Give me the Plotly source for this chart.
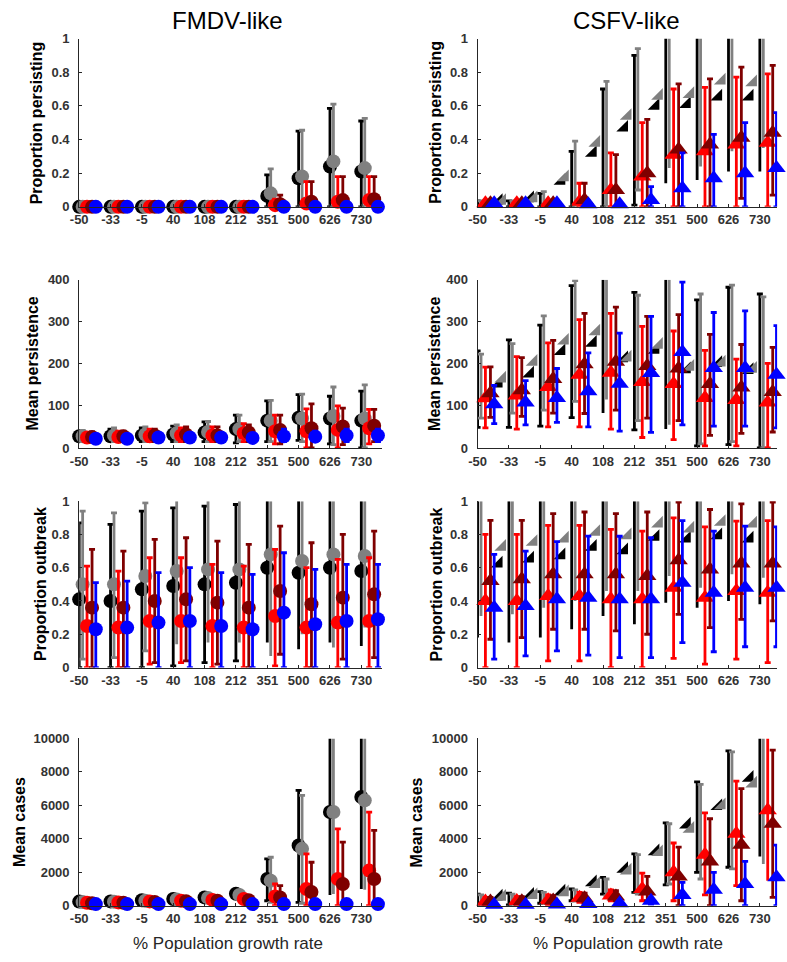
import plotly.graph_objects as go

# ---------------- data ----------------
CATEGORIES = ["-50", "-33", "-5", "40", "108", "212", "351", "500", "626", "730"]
SERIES = ["black", "gray", "red", "darkred", "blue"]
COLORS = ["#000000", "#808080", "#ff0000", "#7f0000", "#0000ff"]

# FMDV-like: proportion persisting
fm_persist_mean = [
    [0, 0, 0, 0, 0, 0, 0.065, 0.17, 0.24, 0.21],
    [0, 0, 0, 0, 0, 0, 0.08, 0.18, 0.27, 0.23],
    [0, 0, 0, 0, 0, 0, 0.01, 0.02, 0.03, 0.04],
    [0, 0, 0, 0, 0, 0, 0.015, 0.03, 0.04, 0.045],
    [0, 0, 0, 0, 0, 0, 0, 0, 0, 0],
]
fm_persist_lo = [[0] * 10 for _ in range(5)]
fm_persist_hi = [
    [0, 0, 0, 0, 0, 0, 0.19, 0.45, 0.585, 0.51],
    [0, 0, 0, 0, 0, 0, 0.225, 0.455, 0.61, 0.525],
    [0, 0, 0, 0, 0, 0, 0.045, 0.15, 0.18, 0.18],
    [0, 0, 0, 0, 0, 0, 0.07, 0.15, 0.18, 0.18],
    [0, 0, 0, 0, 0, 0, 0, 0, 0, 0],
]

# CSFV-like: proportion persisting
cs_persist_mean = [
    [0.035, 0.035, 0.05, 0.155, 0.32, 0.47, 0.60, 0.61, 0.655, 0.655],
    [0.035, 0.035, 0.05, 0.175, 0.38, 0.54, 0.66, 0.67, 0.75, 0.74],
    [0.022, 0.022, 0.022, 0.03, 0.10, 0.18, 0.31, 0.33, 0.37, 0.38],
    [0.022, 0.022, 0.022, 0.04, 0.10, 0.20, 0.34, 0.37, 0.41, 0.44],
    [0.022, 0.022, 0.022, 0.015, 0.015, 0.04, 0.11, 0.17, 0.20, 0.23],
]
cs_persist_lo = [
    [0, 0, 0, 0, 0, 0.01, 0.14, 0.16, 0.21, 0.21],
    [0, 0, 0, 0, 0, 0.10, 0.23, 0.24, 0.33, 0.35],
    [0, 0, 0, 0, 0, 0, 0, 0, 0, 0],
    [0, 0, 0, 0, 0, 0, 0, 0, 0.05, 0.07],
    [0, 0, 0, 0, 0, 0, 0, 0, 0, 0],
]
cs_persist_hi = [
    [0, 0, 0.08, 0.33, 0.70, 0.90, 1.1, 1.1, 1.1, 1.1],
    [0, 0, 0.09, 0.39, 0.745, 0.94, 1.1, 1.1, 1.1, 1.1],
    [0, 0, 0, 0.14, 0.32, 0.50, 0.70, 0.71, 0.77, 0.79],
    [0, 0, 0, 0.14, 0.31, 0.52, 0.73, 0.76, 0.83, 0.84],
    [0, 0, 0, 0, 0, 0.12, 0.32, 0.43, 0.50, 0.56],
]

# FMDV-like: mean persistence
fm_meanpers_mean = [
    [28, 28, 30, 32, 37, 45, 65, 72, 70, 65],
    [28, 30, 32, 35, 38, 45, 65, 70, 76, 70],
    [25, 26, 28, 30, 30, 35, 40, 40, 43, 47],
    [26, 28, 30, 32, 30, 37, 43, 47, 51, 53],
    [22, 22, 25, 25, 25, 24, 28, 27, 30, 30],
]
fm_meanpers_lo = [
    [18, 18, 15, 15, 15, 12, 15, 18, 10, 0],
    [15, 15, 15, 15, 15, 15, 15, 15, 8, 0],
    [15, 15, 15, 15, 15, 15, 10, 0, 0, 10],
    [15, 15, 15, 15, 15, 15, 10, 0, 8, 15],
    [14, 14, 15, 15, 15, 15, 15, 15, 15, 15],
]
fm_meanpers_hi = [
    [40, 45, 48, 52, 62, 78, 112, 127, 123, 135],
    [42, 48, 50, 55, 63, 78, 113, 128, 145, 150],
    [35, 40, 45, 48, 50, 58, 78, 93, 100, 92],
    [38, 40, 45, 50, 50, 55, 78, 105, 95, 92],
    [30, 30, 35, 35, 35, 33, 45, 40, 45, 45],
]

# CSFV-like: mean persistence
cs_meanpers_mean = [
    [145, 153, 177, 230, 250, 213, 233, 187, 202, 185],
    [157, 165, 205, 255, 277, 215, 245, 193, 203, 188],
    [118, 125, 145, 174, 179, 157, 152, 119, 114, 108],
    [130, 137, 164, 199, 205, 195, 189, 152, 144, 133],
    [104, 108, 119, 135, 153, 178, 228, 190, 190, 174],
]
cs_meanpers_lo = [
    [49, 49, 52, 72, 83, 43, 45, 5, 8, 0],
    [71, 83, 90, 111, 115, 65, 55, 10, 15, 0],
    [48, 45, 50, 50, 45, 25, 20, 5, 5, 0],
    [73, 75, 83, 82, 90, 71, 65, 30, 35, 38],
    [58, 55, 61, 50, 40, 37, 55, 52, 52, 48],
]
cs_meanpers_hi = [
    [231, 257, 292, 386, 420, 370, 420, 352, 382, 366],
    [223, 248, 314, 398, 420, 363, 420, 366, 387, 359],
    [192, 217, 250, 305, 320, 289, 278, 232, 211, 201],
    [193, 215, 256, 320, 335, 313, 317, 270, 246, 239],
    [149, 160, 189, 226, 273, 313, 394, 322, 326, 291],
]

# FMDV-like: proportion outbreak
fm_outbreak_mean = [
    [0.41, 0.40, 0.47, 0.49, 0.50, 0.51, 0.60, 0.57, 0.60, 0.58],
    [0.50, 0.50, 0.55, 0.58, 0.59, 0.59, 0.68, 0.64, 0.68, 0.67],
    [0.25, 0.24, 0.28, 0.28, 0.25, 0.24, 0.31, 0.24, 0.27, 0.28],
    [0.36, 0.36, 0.40, 0.41, 0.39, 0.36, 0.46, 0.38, 0.42, 0.44],
    [0.23, 0.24, 0.27, 0.28, 0.25, 0.23, 0.33, 0.26, 0.28, 0.29],
]
fm_outbreak_lo = [
    [0, 0, 0, 0.01, 0.03, 0.04, 0.15, 0.11, 0.15, 0.13],
    [0.05, 0.06, 0.10, 0.14, 0.15, 0.15, 0.07, 0.20, 0.12, 0.24],
    [0, 0, 0.02, 0.03, 0, 0, 0.01, 0, 0, 0],
    [0, 0, 0.03, 0.04, 0.02, 0, 0.08, 0, 0.05, 0.06],
    [0, 0, 0, 0, 0, 0, 0, 0, 0, 0],
]
fm_outbreak_hi = [
    [0.87, 0.86, 0.94, 0.96, 0.97, 0.98, 1.1, 1.1, 1.1, 1.1],
    [0.94, 0.93, 0.99, 1.1, 1.1, 1.1, 1.1, 1.1, 1.1, 1.1],
    [0.61, 0.58, 0.66, 0.66, 0.62, 0.61, 0.71, 0.60, 0.65, 0.66],
    [0.71, 0.70, 0.77, 0.78, 0.76, 0.74, 0.85, 0.75, 0.80, 0.82],
    [0.51, 0.52, 0.57, 0.60, 0.57, 0.56, 0.69, 0.59, 0.62, 0.62],
]

# CSFV-like: proportion outbreak
cs_outbreak_mean = [
    [0.635, 0.625, 0.655, 0.675, 0.725, 0.705, 0.785, 0.775, 0.795, 0.775],
    [0.725, 0.725, 0.755, 0.775, 0.815, 0.795, 0.865, 0.835, 0.875, 0.865],
    [0.40, 0.40, 0.43, 0.43, 0.41, 0.41, 0.48, 0.42, 0.46, 0.45],
    [0.52, 0.53, 0.56, 0.56, 0.56, 0.55, 0.645, 0.59, 0.625, 0.625],
    [0.36, 0.37, 0.41, 0.42, 0.41, 0.41, 0.51, 0.45, 0.48, 0.48],
]
cs_outbreak_lo = [
    [0.18, 0.15, 0.18, 0.23, 0.31, 0.26, 0.39, 0.36, 0.40, 0.38],
    [0.31, 0.32, 0.36, 0.40, 0.46, 0.46, 0.55, 0.48, 0.56, 0.54],
    [0, 0, 0.04, 0.04, 0, 0, 0.055, 0.02, 0.05, 0.03],
    [0.17, 0.18, 0.23, 0.23, 0.22, 0.20, 0.32, 0.24, 0.29, 0.28],
    [0.05, 0.07, 0.10, 0.075, 0.06, 0.06, 0.15, 0.095, 0.125, 0.125],
]
cs_outbreak_hi = [
    [1.1] * 10,
    [1.1] * 10,
    [0.80, 0.80, 0.855, 0.855, 0.83, 0.82, 0.90, 0.846, 0.88, 0.883],
    [0.885, 0.885, 0.925, 0.935, 0.925, 0.935, 0.994, 0.95, 0.984, 0.994],
    [0.68, 0.70, 0.757, 0.79, 0.789, 0.78, 0.883, 0.82, 0.85, 0.846],
]

# FMDV-like: mean cases
fm_cases_mean = [
    [250, 260, 330, 400, 500, 720, 1600, 3600, 5600, 6500],
    [220, 240, 300, 380, 470, 650, 1500, 3400, 5600, 6300],
    [180, 200, 260, 300, 350, 400, 550, 1000, 1600, 2100],
    [150, 180, 230, 270, 300, 330, 500, 820, 1300, 1600],
    [100, 100, 100, 100, 100, 100, 100, 100, 100, 100],
]
fm_cases_lo = [
    [150, 150, 200, 250, 300, 450, 300, 200, 650, 1000],
    [130, 140, 180, 230, 280, 400, 200, 150, 700, 950],
    [100, 120, 150, 180, 200, 250, 0, 0, 0, 0],
    [90, 100, 130, 150, 180, 200, 0, 0, 0, 0],
    [60, 60, 60, 60, 60, 60, 60, 60, 60, 60],
]
fm_cases_hi = [
    [350, 380, 450, 550, 700, 950, 2800, 6900, 11000, 11000],
    [320, 350, 420, 520, 650, 900, 2900, 6600, 11000, 11000],
    [250, 280, 330, 400, 450, 550, 1300, 3100, 4600, 5600],
    [220, 250, 300, 350, 400, 450, 1200, 2600, 3800, 4500],
    [130, 130, 130, 130, 130, 130, 130, 130, 130, 130],
]

# CSFV-like: mean cases
cs_cases_mean = [
    [500, 550, 650, 850, 1400, 2200, 3250, 4850, 5950, 7650],
    [500, 530, 630, 800, 1300, 2100, 3200, 4600, 6000, 7300],
    [250, 280, 330, 480, 620, 1000, 2000, 3050, 4300, 5700],
    [250, 270, 320, 450, 550, 850, 1750, 2650, 3650, 4900],
    [60, 60, 80, 100, 150, 300, 650, 950, 1300, 1700],
]
cs_cases_lo = [
    [0, 50, 150, 300, 700, 800, 1250, 2000, 2300, 2950],
    [0, 50, 150, 300, 600, 700, 1300, 1600, 2200, 2500],
    [0, 0, 50, 200, 300, 300, 300, 650, 1200, 1500],
    [0, 0, 50, 150, 300, 300, 0, 0, 300, 500],
    [0, 0, 0, 0, 0, 100, 0, 0, 0, 0],
]
cs_cases_hi = [
    [700, 750, 850, 1000, 1700, 3100, 4950, 7400, 9250, 11000],
    [650, 700, 800, 950, 1600, 3050, 4900, 7250, 9200, 11000],
    [500, 550, 650, 800, 950, 1950, 3750, 5550, 7450, 11000],
    [500, 550, 600, 750, 900, 1750, 3500, 5200, 7000, 9300],
    [100, 100, 150, 200, 250, 450, 1400, 2000, 2650, 3620],
]

PROP_TICKS = [0, 0.2, 0.4, 0.6, 0.8, 1]
PROP_TICKTEXT = ["0", "0.2", "0.4", "0.6", "0.8", "1"]
PERS_TICKS = [0, 100, 200, 300, 400]
CASES_TICKS = [0, 2000, 4000, 6000, 8000, 10000]

COL_TITLES = ["FMDV-like", "CSFV-like"]
ROW_TITLES = ["Proportion persisting", "Mean persistence", "Proportion outbreak", "Mean cases"]
X_TITLE = "% Population growth rate"

# (row, col, mean, lo, hi, ymax, tickvals, ticktext)
PANELS = [
    (0, 0, fm_persist_mean, fm_persist_lo, fm_persist_hi, 1, PROP_TICKS, PROP_TICKTEXT),
    (0, 1, cs_persist_mean, cs_persist_lo, cs_persist_hi, 1, PROP_TICKS, PROP_TICKTEXT),
    (1, 0, fm_meanpers_mean, fm_meanpers_lo, fm_meanpers_hi, 400, PERS_TICKS, [str(v) for v in PERS_TICKS]),
    (1, 1, cs_meanpers_mean, cs_meanpers_lo, cs_meanpers_hi, 400, PERS_TICKS, [str(v) for v in PERS_TICKS]),
    (2, 0, fm_outbreak_mean, fm_outbreak_lo, fm_outbreak_hi, 1, PROP_TICKS, PROP_TICKTEXT),
    (2, 1, cs_outbreak_mean, cs_outbreak_lo, cs_outbreak_hi, 1, PROP_TICKS, PROP_TICKTEXT),
    (3, 0, fm_cases_mean, fm_cases_lo, fm_cases_hi, 10000, CASES_TICKS, [str(v) for v in CASES_TICKS]),
    (3, 1, cs_cases_mean, cs_cases_lo, cs_cases_hi, 10000, CASES_TICKS, [str(v) for v in CASES_TICKS]),
]

# ---------------- layout geometry (pixels) ----------------
W, H = 787, 962
COL_X = [(71, 377), (474, 777)]
COL_XRANGE = [9.65, 9.55]
ROW_Y = [(32, 203), (277, 448), (502, 671), (743, 913)]
OFFSETS = [0, 0.11, 0.25, 0.41, 0.53]
YTITLE_X = [[28, 432], [24, 431], [32, 432], [10, 412]]
FONT = "Liberation Sans, Arial, sans-serif"
AXIS_COLOR = "#262626"
TICK_FONT = dict(family=FONT, size=13, color="#333333", weight="bold")

fig = go.Figure()
layout = {}
annotations = []

for p, (row, col, mean, lo, hi, ymax, tvals, ttext) in enumerate(PANELS):
    sfx = "" if p == 0 else str(p + 1)
    xa, ya = "x" + sfx, "y" + sfx
    x0, x1 = COL_X[col]
    top, bot = ROW_Y[row]
    px_per_unit = (x1 - x0) / COL_XRANGE[col]

    layout["xaxis" + sfx] = dict(
        domain=[x0 / W, x1 / W], range=[0, COL_XRANGE[col]], anchor=ya,
        tickmode="array", tickvals=list(range(len(CATEGORIES))), ticktext=CATEGORIES,
        showline=True, linecolor=AXIS_COLOR, linewidth=1, ticks="inside", ticklen=3,
        tickcolor=AXIS_COLOR, showgrid=False, zeroline=False, tickfont=TICK_FONT,
        ticklabelstandoff=1, fixedrange=True,
    )
    layout["yaxis" + sfx] = dict(
        domain=[1 - bot / H, 1 - top / H], range=[0, ymax], anchor=xa,
        tickmode="array", tickvals=tvals, ticktext=ttext,
        showline=True, linecolor=AXIS_COLOR, linewidth=1, ticks="inside", ticklen=3,
        tickcolor=AXIS_COLOR, showgrid=False, zeroline=False, tickfont=TICK_FONT,
        ticklabelstandoff=6, fixedrange=True,
    )

    for s in range(len(SERIES)):
        m, l, h = mean[s], lo[s], hi[s]
        color = COLORS[s]
        xs = [i + OFFSETS[s] for i in range(len(CATEGORIES))]
        for overflow in (False, True):
            idx = [i for i in range(len(m))
                   if (h[i] > ymax) == overflow and (max(h[i] - m[i], 0) > 0 or max(m[i] - l[i], 0) > 0)]
            if not idx:
                continue
            fig.add_trace(go.Scatter(
                x=[xs[i] for i in idx], y=[m[i] for i in idx], mode="markers",
                marker=dict(size=2, opacity=0), xaxis=xa, yaxis=ya,
                error_y=dict(type="data", symmetric=False,
                             array=[max(min(h[i], ymax) - m[i], 0) for i in idx],
                             arrayminus=[max(m[i] - l[i], 0) for i in idx],
                             color=color, thickness=2.8, width=0 if overflow else 3),
                showlegend=False, hoverinfo="skip", cliponaxis=False,
            ))
        if col == 0:
            marker = dict(symbol="circle", size=14, color=color, line=dict(width=0))
            mx = xs
        elif s < 2:
            msize = 13
            marker = dict(symbol="triangle-se", size=msize, color=color, line=dict(width=0))
            mx = [x - 0.8 * msize / px_per_unit for x in xs]
        else:
            marker = dict(symbol="triangle-up", size=16, color=color, line=dict(width=0))
            mx = xs
        fig.add_trace(go.Scatter(
            x=mx, y=m, mode="markers", marker=marker, xaxis=xa, yaxis=ya,
            showlegend=False, hoverinfo="skip", cliponaxis=False, name=SERIES[s],
        ))

    annotations.append(dict(
        text="<b>%s</b>" % ROW_TITLES[row], xref="paper", yref="paper",
        x=YTITLE_X[row][col] / W, y=1 - (top + bot) / 2 / H, textangle=-90,
        showarrow=False, xanchor="center", yanchor="middle",
        font=dict(family=FONT, size=16, color="#000000"),
    ))

for col, (cx, title) in enumerate(zip([221, 625], COL_TITLES)):
    annotations.append(dict(
        text=title, xref="paper", yref="paper", x=cx / W, y=1 - 14 / H,
        showarrow=False, xanchor="center", yanchor="middle",
        font=dict(family=FONT, size=24, color="#000000"),
    ))
for cx in [222, 626]:
    annotations.append(dict(
        text=X_TITLE, xref="paper", yref="paper", x=cx / W, y=1 - 951 / H,
        showarrow=False, xanchor="center", yanchor="middle",
        font=dict(family=FONT, size=17, color="#262626"),
    ))

fig.update_layout(
    width=W, height=H, margin=dict(l=0, r=0, t=0, b=0),
    paper_bgcolor="white", plot_bgcolor="white", showlegend=False,
    annotations=annotations, **layout,
)

fig.write_html(
    "out.html",
    config={"displayModeBar": False},
    post_script="document.body.style.margin='0';document.body.style.overflow='hidden';",
)
